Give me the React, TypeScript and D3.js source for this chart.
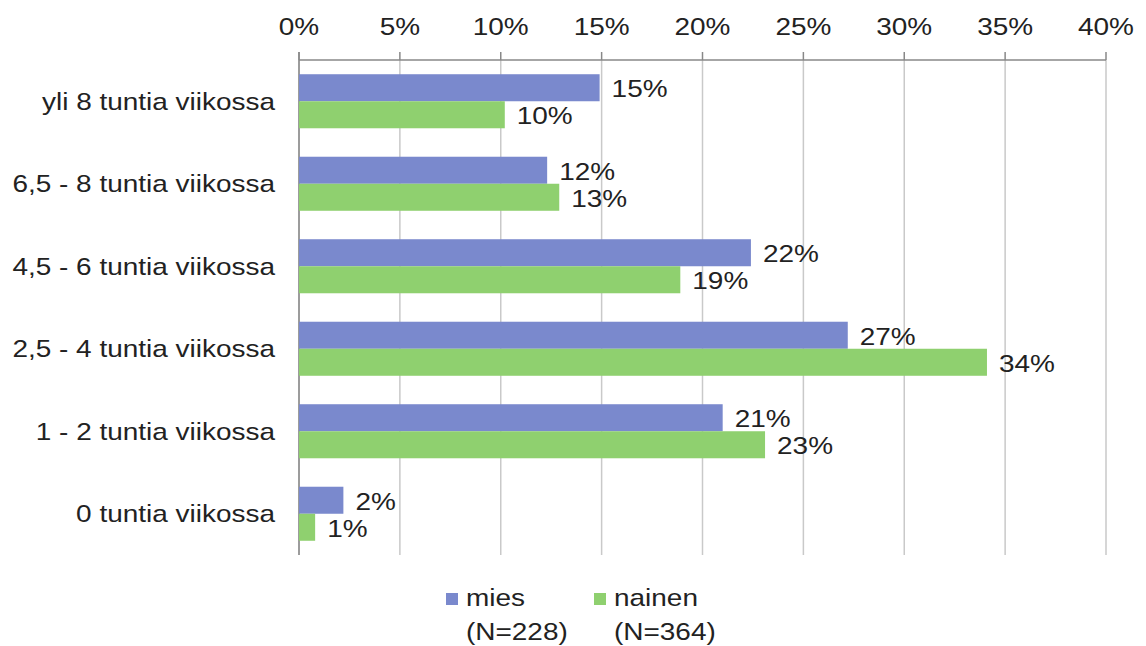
import React from "react";
import * as d3 from "d3";

const categories = [
  "yli 8 tuntia viikossa",
  "6,5 - 8 tuntia viikossa",
  "4,5 - 6 tuntia viikossa",
  "2,5 - 4 tuntia viikossa",
  "1 - 2 tuntia viikossa",
  "0 tuntia viikossa",
];
const miesValues = [14.9, 12.3, 22.4, 27.2, 21.0, 2.2];
const nainenValues = [10.2, 12.9, 18.9, 34.1, 23.1, 0.8];
const miesLabels = ["15%", "12%", "22%", "27%", "21%", "2%"];
const nainenLabels = ["10%", "13%", "19%", "34%", "23%", "1%"];
const xTicks = [0, 5, 10, 15, 20, 25, 30, 35, 40];
const seriesNames = ["mies", "nainen"];
const seriesN = ["(N=228)", "(N=364)"];

const W = 1146;
const H = 646;
const left = 299;
const right = 1106;
const top = 60;
const bottom = 555;
const colors = ["#7a89cd", "#8fd06f"];
const font = "'Liberation Sans', Arial, sans-serif";
const FS = 24;
const SX = 1.165;

function T({ x, y, anchor = "start", dy = "0", children }: any) {
  return (
    <text transform={`translate(${x},${y}) scale(${SX},1)`} textAnchor={anchor} dy={dy} fontSize={FS} fill="#222">
      {children}
    </text>
  );
}

export default function App() {
  const x = d3.scaleLinear().domain([0, 40]).range([left, right]);
  const y = d3.scaleBand<string>().domain(categories).range([top, bottom]).paddingInner(0.345).paddingOuter(0.1725);
  const bw = y.bandwidth() / 2;
  return (
    <svg width={W} height={H} style={{ position: "absolute", left: 0, top: 0, background: "#fff" }} fontFamily={font}>
      {xTicks.map((t) => (
        <g key={t}>
          <line x1={x(t)} x2={x(t)} y1={top} y2={bottom} stroke="#c9c9c9" strokeWidth={1.5} />
          <line x1={x(t)} x2={x(t)} y1={top - 8} y2={top} stroke="#888" strokeWidth={1.5} />
          <T x={x(t)} y={35} anchor="middle">{t}%</T>
        </g>
      ))}
      <line x1={left} x2={right} y1={top} y2={top} stroke="#888" strokeWidth={1.5} />
      <line x1={left} x2={left} y1={top - 8} y2={bottom} stroke="#888" strokeWidth={1.5} />
      {categories.map((c, i) => {
        const y0 = y(c)!;
        return (
          <g key={c}>
            <T x={275} y={y0 + bw} dy="0.35em" anchor="end">{c}</T>
            <rect x={x(0)} y={y0} width={x(miesValues[i]) - x(0)} height={bw} fill={colors[0]} />
            <rect x={x(0)} y={y0 + bw} width={x(nainenValues[i]) - x(0)} height={bw} fill={colors[1]} />
            <T x={x(miesValues[i]) + 12} y={y0 + bw / 2 + 1} dy="0.35em">{miesLabels[i]}</T>
            <T x={x(nainenValues[i]) + 12} y={y0 + bw * 1.5 + 1} dy="0.35em">{nainenLabels[i]}</T>
          </g>
        );
      })}
      {seriesNames.map((s, i) => {
        const lx = i === 0 ? 446 : 594;
        return (
          <g key={s}>
            <rect x={lx} y={593} width={12} height={12} fill={colors[i]} />
            <T x={lx + 20} y={606}>{s}</T>
            <T x={lx + 20} y={640}>{seriesN[i]}</T>
          </g>
        );
      })}
    </svg>
  );
}
